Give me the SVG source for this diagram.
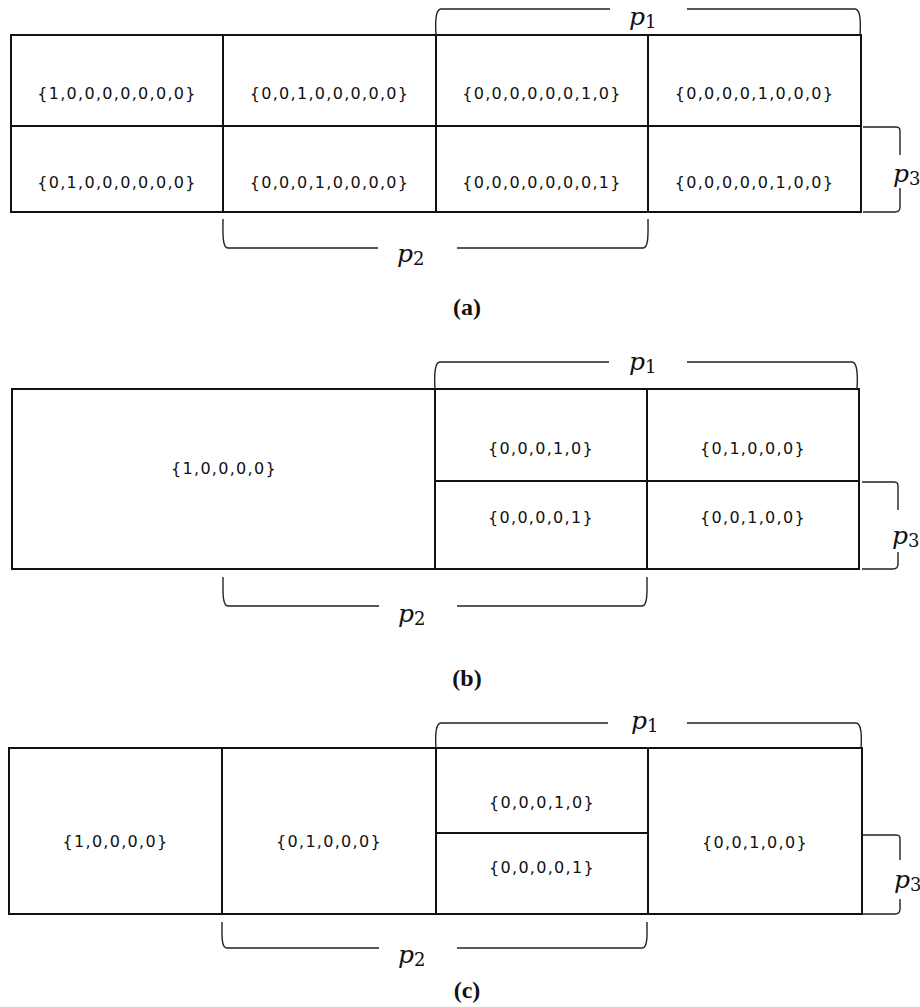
<svg xmlns="http://www.w3.org/2000/svg" width="920" height="1007" viewBox="0 0 920 1007">
  <style>
    .grid { fill: none; stroke: #111; stroke-width: 2; }
    .brace { fill: none; stroke: #222; stroke-width: 1.4; }
    .cell { font-family: "DejaVu Sans", "Liberation Sans", sans-serif; font-size: 16px; letter-spacing: 1.3px; fill: #111; text-anchor: middle; }
    .sym { font-family: "DejaVu Serif", "Liberation Serif", serif; font-style: italic; font-size: 25px; fill: #111; }
    .sub { font-style: normal; font-size: 18px; }
    .cap { font-family: "Liberation Serif", "Times New Roman", serif; font-weight: bold; font-size: 24px; fill: #111; text-anchor: middle; }
  </style>
  <rect width="920" height="1007" fill="#fff"/>

  <!-- Layout (a): eight one-hot cells, 2 x 4 -->
  <g id="panel-a">
    <g id="a-grid">
      <rect class="grid" x="11" y="35" width="850" height="177"/>
      <path class="grid" d="M11,126 H861 M223,35 V212 M436,35 V212 M648,35 V212"/>
    </g>
    <g id="a-cells">
      <text class="cell" x="117" y="99">{1,0,0,0,0,0,0,0}</text>
      <text class="cell" x="329.5" y="99">{0,0,1,0,0,0,0,0}</text>
      <text class="cell" x="542" y="99">{0,0,0,0,0,0,1,0}</text>
      <text class="cell" x="754.5" y="99">{0,0,0,0,1,0,0,0}</text>
      <text class="cell" x="117" y="188">{0,1,0,0,0,0,0,0}</text>
      <text class="cell" x="329.5" y="188">{0,0,0,1,0,0,0,0}</text>
      <text class="cell" x="542" y="188">{0,0,0,0,0,0,0,1}</text>
      <text class="cell" x="754.5" y="188">{0,0,0,0,0,1,0,0}</text>
    </g>
    <g id="a-braces">
      <path class="brace" d="M436,35 C435,20 436,9 441,9 H610 M687,9 H855 C860,9 861,20 860,35"/>
      <path class="brace" d="M223,219 C223,232 222,248 228,248 H378 M457,248 H643 C649,248 648,232 648,219"/>
      <path class="brace" d="M863,127 H896 C900,127 900,129 900,132 V155 M900,188 V207 C900,210 899,212 895,212 H863"/>
    </g>
    <g id="a-labels">
      <text class="sym" x="629" y="25">p<tspan class="sub" dy="3">1</tspan></text>
      <text class="sym" x="397" y="262">p<tspan class="sub" dy="3">2</tspan></text>
      <text class="sym" x="893" y="182">p<tspan class="sub" dy="3">3</tspan></text>
      <text class="cap" x="467" y="315">(a)</text>
    </g>
  </g>

  <!-- Layout (b): one wide cell and a 2 x 2 block -->
  <g id="panel-b">
    <g id="b-grid">
      <rect class="grid" x="12" y="389" width="847" height="180"/>
      <path class="grid" d="M435,389 V569 M647,389 V569 M435,481 H859"/>
    </g>
    <g id="b-cells">
      <text class="cell" x="224" y="474">{1,0,0,0,0}</text>
      <text class="cell" x="541" y="454">{0,0,0,1,0}</text>
      <text class="cell" x="753" y="454">{0,1,0,0,0}</text>
      <text class="cell" x="541" y="523">{0,0,0,0,1}</text>
      <text class="cell" x="753" y="523">{0,0,1,0,0}</text>
    </g>
    <g id="b-braces">
      <path class="brace" d="M435,389 C434,374 435,362 440,362 H609 M687,362 H852 C857,362 858,374 857,389"/>
      <path class="brace" d="M223,577 C223,590 222,606 228,606 H379 M457,606 H642 C648,606 647,590 647,577"/>
      <path class="brace" d="M862,482 H894 C898,482 898,484 898,487 V510 M898,552 V564 C898,567 897,569 893,569 H862"/>
    </g>
    <g id="b-labels">
      <text class="sym" x="629" y="370">p<tspan class="sub" dy="3">1</tspan></text>
      <text class="sym" x="398" y="622">p<tspan class="sub" dy="3">2</tspan></text>
      <text class="sym" x="892" y="544">p<tspan class="sub" dy="3">3</tspan></text>
      <text class="cap" x="467" y="686">(b)</text>
    </g>
  </g>

  <!-- Layout (c): four columns, the third split in two -->
  <g id="panel-c">
    <g id="c-grid">
      <rect class="grid" x="9" y="748" width="853" height="166"/>
      <path class="grid" d="M222,748 V914 M436,748 V914 M648,748 V914 M436,833 H648"/>
    </g>
    <g id="c-cells">
      <text class="cell" x="115.5" y="847">{1,0,0,0,0}</text>
      <text class="cell" x="329" y="847">{0,1,0,0,0}</text>
      <text class="cell" x="542" y="808">{0,0,0,1,0}</text>
      <text class="cell" x="542" y="873">{0,0,0,0,1}</text>
      <text class="cell" x="755" y="848">{0,0,1,0,0}</text>
    </g>
    <g id="c-braces">
      <path class="brace" d="M436,748 C435,734 436,723 441,723 H608 M687,723 H856 C861,723 862,734 861,748"/>
      <path class="brace" d="M222,922 C222,934 221,948 227,948 H379 M457,948 H642 C648,948 647,934 647,922"/>
      <path class="brace" d="M863,835 H896 C900,835 900,837 900,840 V860 M900,899 V909 C900,912 899,914 895,914 H863"/>
    </g>
    <g id="c-labels">
      <text class="sym" x="631" y="729">p<tspan class="sub" dy="3">1</tspan></text>
      <text class="sym" x="398" y="963">p<tspan class="sub" dy="3">2</tspan></text>
      <text class="sym" x="894" y="888">p<tspan class="sub" dy="3">3</tspan></text>
      <text class="cap" x="467" y="998">(c)</text>
    </g>
  </g>
</svg>
